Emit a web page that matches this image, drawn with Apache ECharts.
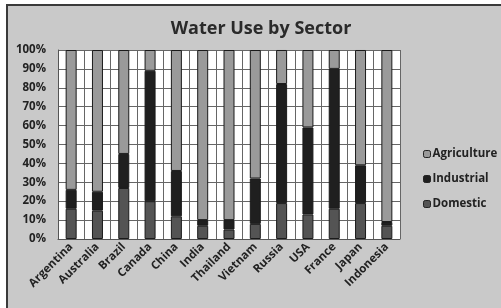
<!DOCTYPE html>
<html lang="en">
<head>
    <meta charset="UTF-8">
    <title>Water Use by Sector</title>
    <script src="https://cdn.jsdelivr.net/npm/echarts@6.0.0/dist/echarts.min.js"></script>
    <style>
        html, body { margin: 0; padding: 0; background: #fff; }
    </style>
</head>
<body>
    <div id="main" style="width:501px;height:308px;"></div>
    <script>
        var countries = ['Argentina', 'Australia', 'Brazil', 'Canada', 'China', 'India', 'Thailand',
            'Vietnam', 'Russia', 'USA', 'France', 'Japan', 'Indonesia'];
        // percentages
        var domestic = [16, 15, 27, 20, 12, 7, 5, 8, 19, 13, 16, 19, 7];
        var industrial = [10, 10, 18, 69, 24, 3, 5, 24, 63, 46, 74, 20, 2];
        var agriculture = [74, 75, 55, 11, 64, 90, 90, 68, 18, 41, 10, 61, 91];
        var yTicks = [0, 10, 20, 30, 40, 50, 60, 70, 80, 90, 100];

        var myChart = echarts.init(document.getElementById('main'));
        var barBorder = { borderColor: '#1a1a1a', borderWidth: 1 };

        function seg(name, values, color) {
            return {
                name: name,
                type: 'bar',
                stack: 'all',
                barWidth: 11,
                data: values,
                itemStyle: Object.assign({ color: color }, barBorder)
            };
        }

        var option = {
            backgroundColor: '#fff',
            animation: false,
            graphic: [{
                type: 'rect',
                z: -10,
                shape: { x: 7, y: 5, width: 520, height: 330 },
                style: { fill: '#c9c9c9', stroke: '#3a3a3a', lineWidth: 2 }
            }],
            title: {
                text: 'Water Use by Sector',
                left: 256,
                textAlign: 'center',
                top: 15,
                textStyle: { fontFamily: 'Open Sans', fontSize: 18, fontWeight: 'bold', color: '#2a2a2a' }
            },
            legend: {
                orient: 'vertical',
                left: 418,
                top: 143,
                itemWidth: 7,
                itemHeight: 7,
                itemGap: 13,
                data: ['Agriculture', 'Industrial', 'Domestic'],
                textStyle: { fontFamily: 'Open Sans', fontSize: 11.5, fontWeight: 'bold', color: '#222', padding: [0, 0, 0, -3] },
                itemStyle: { borderColor: '#222', borderWidth: 1 }
            },
            grid: { left: 58, top: 50, width: 342, height: 189, containLabel: false, show: true, backgroundColor: '#fff', borderWidth: 0 },
            xAxis: {
                type: 'category',
                data: countries,
                axisTick: { show: false },
                axisLine: { lineStyle: { color: '#555' } },
                splitLine: { show: true, lineStyle: { color: '#666', width: 1 } },
                axisLabel: {
                    interval: 0,
                    rotate: 45,
                    margin: 6,
                    fontFamily: 'Open Sans',
                    fontSize: 11.5,
                    fontWeight: 'bold',
                    color: '#222'
                }
            },
            yAxis: {
                type: 'value',
                min: yTicks[0],
                max: yTicks[yTicks.length - 1],
                interval: 10,
                axisLine: { show: true, lineStyle: { color: '#555' } },
                axisTick: { show: false },
                splitLine: { show: true, lineStyle: { color: '#666', width: 1 } },
                axisLabel: {
                    margin: 12,
                    formatter: '{value}%',
                    fontFamily: 'Open Sans',
                    fontSize: 11.5,
                    fontWeight: 'bold',
                    color: '#222'
                }
            },
            series: [
                seg('Domestic', domestic, '#545454'),
                seg('Industrial', industrial, '#1f1f1f'),
                seg('Agriculture', agriculture, '#9a9a9a')
            ]
        };
        myChart.setOption(option);
    </script>
</body>
</html>
